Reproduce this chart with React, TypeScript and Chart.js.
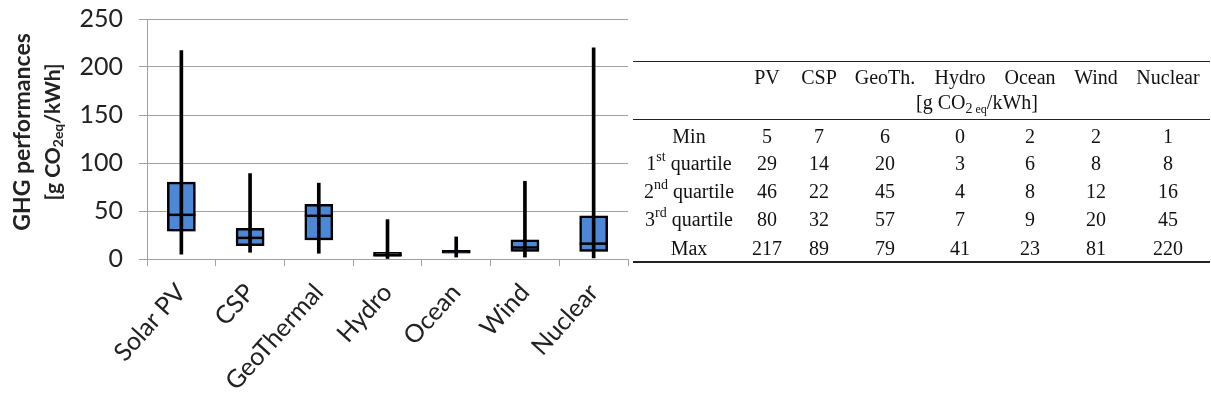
import React, { useEffect, useRef } from 'react';
import { Chart, registerables } from 'chart.js';

Chart.register(...registerables);

const categories = ['Solar PV', 'CSP', 'GeoThermal', 'Hydro', 'Ocean', 'Wind', 'Nuclear'];
const tableHeaders = ['PV', 'CSP', 'GeoTh.', 'Hydro', 'Ocean', 'Wind', 'Nuclear'];
const minValues = [5, 7, 6, 0, 2, 2, 1];
const q1Values = [29, 14, 20, 3, 6, 8, 8];
const medianValues = [46, 22, 45, 4, 8, 12, 16];
const q3Values = [80, 32, 57, 7, 9, 20, 45];
const maxValues = [217, 89, 79, 41, 23, 81, 220];
const yMin = 0;
const yMax = 250;
const yStep = 50;

const BOX_BLUE = '#4d88d6';
const LABEL_FONT = 'Lato, "Open Sans", sans-serif';
const CANVAS_W = 630;

const yTitlePlugin = {
  id: 'yTitle',
  afterDraw(chart: any) {
    const ctx = chart.ctx;
    const cy = 132;
    ctx.save();
    ctx.fillStyle = '#222';
    ctx.textBaseline = 'middle';
    ctx.save();
    ctx.translate(23, cy);
    ctx.rotate(-Math.PI / 2);
    ctx.font = `bold 23px ${LABEL_FONT}`;
    ctx.textAlign = 'center';
    ctx.fillText('GHG performances', 0, 0);
    ctx.restore();
    ctx.save();
    ctx.translate(53, cy);
    ctx.rotate(-Math.PI / 2);
    const big = `bold 21px ${LABEL_FONT}`;
    const small = `bold 14px ${LABEL_FONT}`;
    const parts: [string, string, number][] = [
      ['[g CO', big, 0],
      ['2eq', small, 5],
      ['/kWh]', big, 0],
    ];
    let total = 0;
    parts.forEach(([t, f]) => {
      ctx.font = f;
      total += ctx.measureText(t).width;
    });
    let x = -total / 2;
    ctx.textAlign = 'left';
    parts.forEach(([t, f, dy]) => {
      ctx.font = f;
      ctx.fillText(t, x, dy);
      x += ctx.measureText(t).width;
    });
    ctx.restore();
    ctx.restore();
  },
};

const shadowPlugin = {
  id: 'boxShadow',
  beforeDatasetDraw(chart: any, args: any) {
    if (args.index === 2) {
      const ctx = chart.ctx;
      ctx.save();
      ctx.shadowColor = 'rgba(0,0,0,0.35)';
      ctx.shadowBlur = 4;
      ctx.shadowOffsetX = 2;
      ctx.shadowOffsetY = 2;
    }
  },
  afterDatasetDraw(chart: any, args: any) {
    if (args.index === 2) {
      chart.ctx.restore();
    }
  },
};

function BoxChart() {
  const ref = useRef<HTMLCanvasElement>(null);
  useEffect(() => {
    if (!ref.current) return;
    const chart = new Chart(ref.current, {
      type: 'bar',
      data: {
        labels: categories,
        datasets: [
          {
            type: 'line',
            label: 'Median',
            data: medianValues,
            showLine: false,
            pointStyle: 'line',
            pointRadius: 14,
            pointHoverRadius: 14,
            pointBorderWidth: 2.5,
            pointBorderColor: '#000',
            borderColor: '#000',
            clip: false,
            order: 0,
          } as any,
          {
            type: 'bar',
            label: 'Range',
            data: minValues.map((v, i) => [v, maxValues[i]]),
            backgroundColor: '#000',
            barThickness: 3,
            grouped: false,
            order: 1,
          } as any,
          {
            type: 'bar',
            label: 'Quartiles',
            data: q1Values.map((v, i) => [v, q3Values[i]]),
            backgroundColor: BOX_BLUE,
            borderColor: '#000',
            borderWidth: 2.5,
            borderSkipped: false,
            barThickness: 28,
            grouped: false,
            order: 2,
          } as any,
        ],
      },
      options: {
        animation: false,
        responsive: false,
        maintainAspectRatio: false,
        layout: { autoPadding: false, padding: { top: 19, right: 2, left: 0, bottom: 0 } },
        plugins: {
          legend: { display: false },
          tooltip: { enabled: false },
        },
        scales: {
          x: {
            offset: true,
            afterFit: (s: any) => {
              s.height = 149;
              s.paddingLeft = 0;
              s.paddingRight = 0;
            },
            grid: {
              display: true,
              drawOnChartArea: false,
              drawTicks: true,
              tickLength: 7,
              color: '#a0a0a0',
              offset: true,
            },
            border: { color: '#a0a0a0' },
            ticks: {
              minRotation: 48,
              maxRotation: 48,
              autoSkip: false,
              labelOffset: 0,
              padding: 12,
              color: '#222',
              font: { family: LABEL_FONT, size: 25 },
            },
          },
          y: {
            min: yMin,
            max: yMax,
            afterFit: (s: any) => {
              s.width = 147;
              s.paddingTop = 0;
              s.paddingBottom = 0;
            },
            grid: {
              color: '#a0a0a0',
              tickLength: 8,
              lineWidth: 1,
            },
            border: { color: '#a0a0a0' },
            ticks: {
              stepSize: yStep,
              padding: 16,
              color: '#222',
              font: { family: LABEL_FONT, size: 25 },
            },
          },
        },
      },
      plugins: [yTitlePlugin, shadowPlugin],
    });
    return () => chart.destroy();
  }, []);
  return (
    <canvas
      ref={ref}
      width={CANVAS_W}
      height={408}
      style={{ position: 'absolute', left: 0, top: 0, width: CANVAS_W, height: 408 }}
    />
  );
}

const colCenters = [767, 819, 885, 960, 1030, 1096, 1168];
const supStyle: React.CSSProperties = { fontSize: 14, verticalAlign: 'top', lineHeight: '16px' };
const rowLabels: React.ReactNode[] = [
  'Min',
  <span key="1">1<sup style={supStyle}>st</sup> quartile</span>,
  <span key="2">2<sup style={supStyle}>nd</sup> quartile</span>,
  <span key="3">3<sup style={supStyle}>rd</sup> quartile</span>,
  'Max',
];
const rowData = [minValues, q1Values, medianValues, q3Values, maxValues];
const rowCenters = [136, 163, 191, 219, 248];

function Cell({ cx, cy, children }: { cx: number; cy: number; children: React.ReactNode }) {
  return (
    <div
      style={{
        position: 'absolute',
        left: cx - 70,
        top: cy - 14,
        width: 140,
        height: 28,
        lineHeight: '28px',
        textAlign: 'center',
        whiteSpace: 'nowrap',
      }}
    >
      {children}
    </div>
  );
}

function DataTable() {
  return (
    <div
      style={{
        position: 'absolute',
        left: 0,
        top: 0,
        width: 1211,
        height: 408,
        fontFamily: '"Liberation Serif", "Times New Roman", serif',
        fontSize: 20,
        color: '#111',
        pointerEvents: 'none',
      }}
    >
      <div style={{ position: 'absolute', left: 633, top: 61, width: 577, height: 0, borderTop: '1px solid #222' }} />
      <div style={{ position: 'absolute', left: 633, top: 119, width: 577, height: 0, borderTop: '1.5px solid #222' }} />
      <div style={{ position: 'absolute', left: 633, top: 261, width: 577, height: 0, borderTop: '2px solid #222' }} />
      {tableHeaders.map((h, i) => (
        <Cell key={h} cx={colCenters[i]} cy={77}>{h}</Cell>
      ))}
      <Cell cx={977} cy={102}>
        <span>
          [g CO<sub style={{ fontSize: 14, verticalAlign: 'baseline', position: 'relative', top: 4 }}>2</sub>
          <sub style={{ fontSize: 12, verticalAlign: 'baseline', position: 'relative', top: 4 }}> eq</sub>/kWh]
        </span>
      </Cell>
      {rowLabels.map((l, r) => (
        <Cell key={r} cx={689} cy={rowCenters[r]}>{l}</Cell>
      ))}
      {rowData.map((row, r) =>
        row.map((v, c) => (
          <Cell key={`${r}-${c}`} cx={colCenters[c]} cy={rowCenters[r]}>{v}</Cell>
        ))
      )}
    </div>
  );
}

export default function App() {
  useEffect(() => {
    document.body.style.margin = '0';
    document.body.style.background = '#fff';
  }, []);
  return (
    <div style={{ position: 'relative', width: 1211, height: 408, overflow: 'hidden', background: '#fff' }}>
      <BoxChart />
      <DataTable />
    </div>
  );
}
